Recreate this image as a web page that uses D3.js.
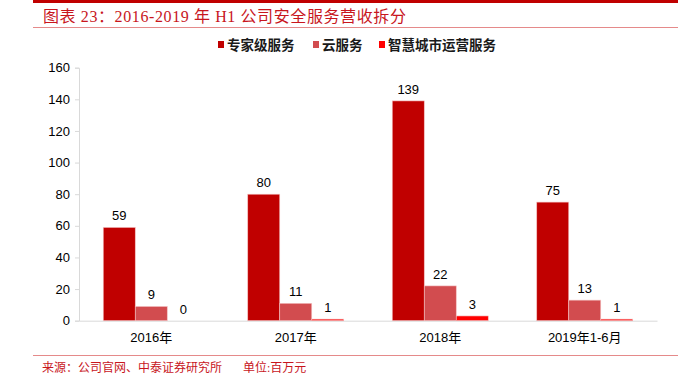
<!DOCTYPE html>
<html>
<head>
<meta charset="utf-8">
<script src="https://cdn.jsdelivr.net/npm/d3@7"></script>
<style>
  body { margin: 0; background: #fff; }
  svg { display: block; }
</style>
</head>
<body>
<div id="chart"></div>
<script>
'use strict'

const categories = ['2016年', '2017年', '2018年', '2019年1-6月'],
    seriesNames = ['专家级服务', '云服务', '智慧城市运营服务'],
    expertValues = [59, 80, 139, 75],
    cloudValues = [9, 11, 22, 13],
    cityValues = [0, 1, 3, 1],
    yTicks = [0, 20, 40, 60, 80, 100, 120, 140, 160],
    colors = ['#C00000', '#D24C4F', '#FF0000']

const width = 692,
    height = 384,
    sansFont = 'Arial, "Liberation Sans", "Noto Sans CJK SC", sans-serif',
    serifFont = '"Liberation Serif", "DejaVu Serif", "Noto Sans CJK SC", serif'

const svg = d3.select('#chart')
    .append('svg')
    .attr('width', width)
    .attr('height', height)

// header and footer rules
svg.append('rect')
    .attr('x', 33).attr('y', 0)
    .attr('width', 645).attr('height', 3)
    .attr('fill', '#C00000')

svg.append('text')
    .attr('x', 43).attr('y', 22)
    .attr('fill', '#C8161D')
    .style('font-family', serifFont)
    .style('font-size', '16px')
    .style('letter-spacing', '0.6px')
    .text('图表 23：2016-2019 年 H1 公司安全服务营收拆分')

svg.append('line')
    .attr('x1', 33).attr('x2', 678)
    .attr('y1', 27.5).attr('y2', 27.5)
    .attr('stroke', '#E58A8A')

svg.append('line')
    .attr('x1', 33).attr('x2', 678)
    .attr('y1', 355.5).attr('y2', 355.5)
    .attr('stroke', '#E58A8A')

svg.append('text')
    .attr('x', 42).attr('y', 372)
    .attr('fill', '#C8161D')
    .style('font-family', serifFont)
    .style('font-size', '12px')
    .text('来源：公司官网、中泰证券研究所')

svg.append('text')
    .attr('x', 243).attr('y', 372)
    .attr('fill', '#C8161D')
    .style('font-family', serifFont)
    .style('font-size', '12px')
    .text('单位:百万元')

// plot
const x0 = 79, x1 = 657, yBase = 320.7, yTop = 67.7

const x = d3.scaleBand()
    .domain(categories)
    .range([x0, x1])
    .paddingInner(0)
    .paddingOuter(0)

const groupWidth = 96
const xSub = d3.scaleBand()
    .domain(seriesNames)
    .range([0, groupWidth])

const y = d3.scaleLinear()
    .domain([0, 160])
    .range([yBase, yTop])

const yAxis = svg.append('g')
    .attr('transform', `translate(${x0},0)`)
    .call(d3.axisLeft(y).tickValues(yTicks).tickSize(4).tickPadding(5))

yAxis.select('.domain').attr('stroke', '#D9D9D9')
yAxis.selectAll('.tick line').attr('stroke', '#D9D9D9')
yAxis.selectAll('.tick text')
    .attr('fill', '#000')
    .style('font-family', sansFont)
    .style('font-size', '13px')

const xAxis = svg.append('g')
    .attr('transform', `translate(0,${yBase})`)
    .call(d3.axisBottom(x).tickSize(0).tickPadding(12))

xAxis.select('.domain').attr('stroke', '#D9D9D9')
xAxis.selectAll('.tick text')
    .attr('fill', '#000')
    .style('font-family', sansFont)
    .style('font-size', '13px')

const series = [expertValues, cloudValues, cityValues]

const rows = []
categories.forEach((c, i) => {
    seriesNames.forEach((s, j) => {
        rows.push({ cat: c, name: s, value: series[j][i], color: colors[j] })
    })
})

const groupOffset = (x.bandwidth() - groupWidth) / 2

svg.append('g')
    .selectAll('rect')
    .data(rows)
    .enter()
    .append('rect')
    .attr('x', d => x(d.cat) + groupOffset + xSub(d.name))
    .attr('y', d => y(d.value))
    .attr('width', xSub.bandwidth())
    .attr('height', d => yBase - y(d.value))
    .attr('fill', d => d.color)
    .attr('stroke', '#F4C2C2')
    .attr('stroke-width', 0.6)

svg.append('g')
    .selectAll('text')
    .data(rows)
    .enter()
    .append('text')
    .attr('x', d => x(d.cat) + groupOffset + xSub(d.name) + xSub.bandwidth() / 2)
    .attr('y', d => y(d.value) - 7)
    .attr('text-anchor', 'middle')
    .attr('fill', '#000')
    .style('font-family', sansFont)
    .style('font-size', '13px')
    .text(d => d.value)

// legend
const legendX = [218, 313, 379]
const legend = svg.append('g')
    .selectAll('g')
    .data(seriesNames)
    .enter()
    .append('g')
    .attr('transform', (d, i) => `translate(${legendX[i]},45)`)

legend.append('rect')
    .attr('x', 0).attr('y', -4)
    .attr('width', 6).attr('height', 7)
    .attr('fill', (d, i) => colors[i])

legend.append('text')
    .attr('x', 9).attr('y', 5)
    .attr('fill', '#1a1a1a')
    .style('font-family', '"Noto Sans CJK SC", sans-serif')
    .style('font-size', '13.5px')
    .style('font-weight', 'bold')
    .text(d => d)
</script>
</body>
</html>
